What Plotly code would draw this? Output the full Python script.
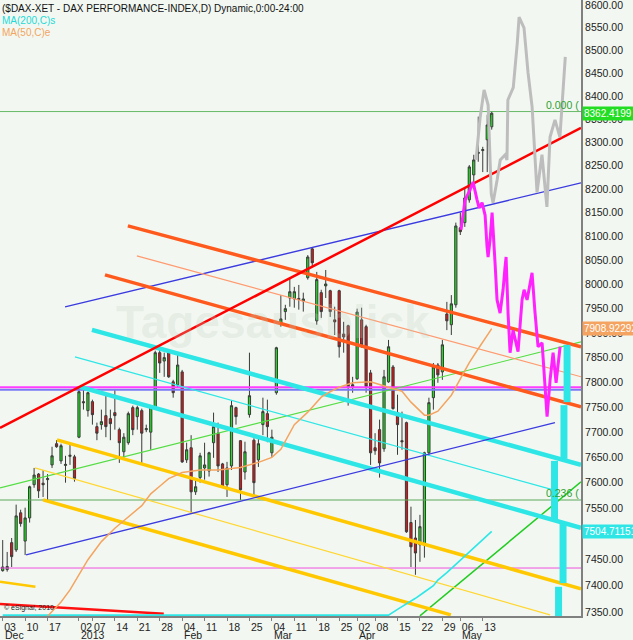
import math
import pandas as pd
import plotly.graph_objects as go

# trading days (Xetra holidays removed)
holidays = ["2012-12-24", "2012-12-25", "2012-12-26", "2012-12-31", "2013-01-01",
            "2013-03-29", "2013-04-01", "2013-05-01"]
days = pd.bdate_range("2012-12-03", "2013-05-15")
days = days[~days.isin(pd.to_datetime(holidays))]

open_ = [7429, 7431, 7483, 7469, 7541, 7486, 7531, 7596, 7617, 7599,
         7606, 7635, 7677, 7643, 7634, 7652, 7651, 7690, 7761, 7743,
         7761, 7711, 7715, 7733, 7727, 7739, 7705, 7661, 7679, 7749,
         7731, 7743, 7705, 7700, 7747, 7860, 7843, 7860, 7801, 7795,
         7821, 7645, 7669, 7582, 7610, 7629, 7623, 7679, 7698, 7637,
         7596, 7633, 7749, 7683, 7621, 7735, 7684, 7645, 7715, 7737,
         7659, 7779, 7919, 7944, 7972, 7970, 7971, 7966, 8014, 8074,
         7925, 7983, 7997, 7987, 7927, 7987, 7898, 7915, 7795, 7807,
         7927, 7913, 7819, 7669, 7705, 7667, 7801, 7831, 7739, 7683,
         7719, 7522, 7492, 7479, 7479, 7659, 7769, 7835, 7821, 7939,
         7917, 7958, 8118, 8129, 8177, 8230, 8276, 8282, 8305, 8333]
high = [7488, 7465, 7492, 7557, 7547, 7551, 7594, 7629, 7619, 7625,
        7617, 7671, 7684, 7677, 7653, 7677, 7655, 7789, 7785, 7781,
        7765, 7719, 7745, 7775, 7745, 7785, 7709, 7698, 7741, 7753,
        7753, 7747, 7715, 7751, 7864, 7866, 7860, 7864, 7805, 7856,
        7825, 7679, 7694, 7606, 7659, 7679, 7661, 7739, 7719, 7639,
        7641, 7763, 7751, 7684, 7681, 7860, 7688, 7690, 7769, 7765,
        7705, 7872, 7978, 7958, 8014, 7995, 7999, 7983, 8061, 8076,
        8026, 7989, 8030, 7989, 7954, 7989, 7923, 7917, 7811, 7950,
        7952, 7917, 7825, 7698, 7725, 7825, 7886, 7835, 7775, 7741,
        7721, 7553, 7527, 7537, 7661, 7769, 7839, 7839, 7886, 7964,
        7978, 8129, 8150, 8202, 8251, 8273, 8355, 8290, 8359, 8367]
low = [7427, 7427, 7436, 7465, 7514, 7459, 7522, 7590, 7570, 7572,
       7566, 7629, 7669, 7637, 7600, 7635, 7602, 7688, 7745, 7731,
       7715, 7684, 7705, 7690, 7684, 7705, 7639, 7645, 7675, 7694,
       7705, 7635, 7700, 7665, 7745, 7819, 7811, 7809, 7769, 7789,
       7639, 7639, 7541, 7576, 7600, 7606, 7612, 7649, 7621, 7590,
       7572, 7625, 7715, 7566, 7606, 7729, 7572, 7631, 7694, 7680,
       7651, 7775, 7913, 7927, 7954, 7952, 7948, 7944, 8010, 8036,
       7917, 7931, 7972, 7933, 7896, 7850, 7860, 7753, 7779, 7805,
       7870, 7779, 7635, 7655, 7610, 7661, 7799, 7745, 7655, 7665,
       7502, 7436, 7421, 7446, 7454, 7653, 7745, 7799, 7805, 7906,
       7896, 7952, 8103, 8120, 8171, 8209, 8258, 8236, 8236, 8327]
close = [7436, 7437, 7456, 7535, 7520, 7531, 7592, 7615, 7584, 7596,
         7608, 7653, 7671, 7673, 7636, 7654, 7608, 7781, 7759, 7779,
         7735, 7698, 7721, 7711, 7717, 7733, 7679, 7690, 7737, 7705,
         7749, 7698, 7707, 7749, 7860, 7839, 7850, 7811, 7779, 7835,
         7641, 7665, 7582, 7592, 7653, 7635, 7659, 7711, 7633, 7592,
         7629, 7753, 7731, 7586, 7661, 7773, 7600, 7677, 7741, 7711,
         7690, 7870, 7929, 7950, 7985, 7985, 7969, 7970, 8057, 8045,
         8010, 7944, 8001, 7944, 7923, 7872, 7892, 7791, 7791, 7943,
         7876, 7791, 7659, 7663, 7639, 7811, 7872, 7747, 7715, 7681,
         7504, 7475, 7463, 7514, 7659, 7759, 7831, 7815, 7876, 7925,
         7960, 8122, 8110, 8181, 8247, 8262, 8278, 8284, 8337, 8362.42]

tick_dates = ["2012-12-03", "2012-12-10", "2012-12-17", "2013-01-02", "2013-01-07",
              "2013-01-14", "2013-01-21", "2013-01-28", "2013-02-04", "2013-02-11",
              "2013-02-18", "2013-02-25", "2013-03-04", "2013-03-11", "2013-03-18",
              "2013-03-25", "2013-04-02", "2013-04-08", "2013-04-15", "2013-04-22",
              "2013-04-29", "2013-05-06", "2013-05-13"]
tick_text = ["03", "10", "17", "02", "07", "14", "21", "28", "04", "11", "18", "25",
             "04", "11", "18", "25", "02", "08", "15", "22", "29", "06", "13"]
month_dates = ["2012-12-03", "2013-01-02", "2013-02-04", "2013-03-04",
               "2013-04-02", "2013-05-06"]
month_text = ["Dec", "2013", "Feb", "Mar", "Apr", "May"]

# moving averages (bar index, value)
ma50_i = [10, 13, 15, 17, 19, 22, 25, 31, 33, 35, 37, 40, 44, 48, 53, 57, 60, 62,
          65, 68, 71, 73, 75, 78, 82, 86, 89, 91, 94, 95, 97, 100, 102, 104, 106, 109]
ma50_v = [7342, 7369, 7392, 7422, 7450, 7485, 7511, 7555, 7578, 7593, 7608, 7620,
          7625, 7625, 7630, 7640, 7650, 7666, 7715, 7740, 7770, 7781, 7790, 7799,
          7801, 7790, 7782, 7760, 7734, 7734, 7742, 7774, 7806, 7840, 7868, 7908.92]
ma200_i = [0, 86, 88, 90, 92, 94, 96, 97, 99, 101, 103, 105, 107, 109]
ma200_v = [7344, 7344, 7355, 7365, 7376, 7388, 7400, 7411, 7425, 7441, 7457,
           7472, 7488, 7504.71]

# drawn trend lines (bar index, price)
red_up_x, red_up_y = [-0.6, 128.9], [7708.5, 8330.7]
red_low_x, red_low_y = [-0.6, 35.9], [7365.3, 7346.4]
gold_short_x, gold_short_y = [-0.6, 7.3], [7407.5, 7397.9]
orange_up_x, orange_up_y = [27.9, 128.9], [8122.2, 7871.7]
orange_low_x, orange_low_y = [22.8, 128.9], [8019.9, 7750.5]
orange_thin_x, orange_thin_y = [29.9, 128.9], [8059.3, 7811.1]
blue_up_x, blue_up_y = [13.9, 128.9], [7953.7, 8213.1]
blue_low_x, blue_low_y = [5.2, 123.1], [7459.3, 7719.0]
cyan_up_x, cyan_up_y = [19.9, 128.9], [7906.5, 7635.2]
cyan_low_x, cyan_low_y = [17.2, 128.9], [7790.8, 7511.9]
cyan_thin_x, cyan_thin_y = [16.1, 122.7], [7851.5, 7585.9]
gold_up_x, gold_up_y = [12.1, 128.9], [7684.7, 7394.0]
gold_low_x, gold_low_y = [9.0, 99.9], [7566.2, 7344.5]
yellow_thin_x, yellow_thin_y = [7.2, 122.0], [7629.2, 7344.5]
green_rise_x, green_rise_y = [93.0, 128.9], [7342.6, 7601.6]
green_thin_x, green_thin_y = [-0.6, 128.9], [7589.9, 7881.9]

# horizontal levels
fib_0 = 8366
fib_236 = 7566
level_magenta = 7790
level_blue = 7785
level_pink = 7434

# projections
proj_mag_x = [102.16, 103.06, 104.17, 104.84, 105.73, 106.18, 106.85, 107.52, 107.96,
              108.19, 108.63, 109.08, 109.74, 110.19, 110.86, 111.53, 111.97, 112.2,
              112.64, 113.09, 113.76, 114.87, 115.76, 116.21, 116.88, 117.55, 117.99,
              118.66, 119.33, 120.23, 120.9, 121.34, 122.01, 122.68, 123.35, 124.24]
proj_mag_y = [8114, 8177, 8198, 8215, 8177, 8160, 8171, 8145, 8078,
              8057, 8093, 8150, 8045, 7968, 7941, 7989, 8036, 8057,
              7941, 7860, 7906, 7862, 7968, 7989, 7968, 7999, 8024,
              7941, 7872, 7880, 7785, 7731, 7805, 7860, 7799, 7872]
proj_gray_x = [105.5, 106.4, 107.3, 108.2, 108.9, 109.3, 110.2, 110.9, 112.0, 112.4,
               112.6, 113.8, 114.7, 115.1, 116.2, 117.1, 118.0, 119.1, 120.2, 121.3,
               122.0, 123.1, 124.2, 124.7, 125.4]
proj_gray_y = [8262, 8352, 8413, 8380, 8190, 8171, 8219, 8262, 8273, 8262,
               8391, 8418, 8516, 8573, 8549, 8450, 8376, 8193, 8273, 8162,
               8311, 8348, 8311, 8391, 8485]
cyan_bar_x = [125.8, 125.8, None, 125.1, 125.1, None, 123.0, 123.0, None,
              124.9, 124.9, None, 123.9, 123.9]
cyan_bar_y = [7876, 7760, None, 7754, 7647, None, 7643, 7527, None,
              7520, 7405, None, 7398, 7342]

idx = list(range(len(days)))
tickvals = [int(days.get_loc(pd.Timestamp(d))) for d in tick_dates]
monthvals = [int(days.get_loc(pd.Timestamp(d))) for d in month_dates]
x_lo, x_hi = -0.6, 128.9
y_lo, y_hi = 7342.3, 8611

fig = go.Figure()


def add_line(x, y, color, width):
    fig.add_trace(go.Scatter(x=x, y=y, mode="lines", hoverinfo="skip",
                             line=dict(color=color, width=width)))


# horizontal levels
add_line([x_lo, x_hi], [fib_0, fib_0], "#66B866", 1)
add_line([x_lo, x_hi], [fib_236, fib_236], "#5FA85F", 1.2)
add_line([x_lo, x_hi], [level_blue, level_blue], "#7A7AF5", 2)
add_line([x_lo, x_hi], [level_magenta, level_magenta], "#FF3CFF", 2)
add_line([x_lo, x_hi], [level_pink, level_pink], "#F050E0", 1)

# trend lines
add_line(green_thin_x, green_thin_y, "#55DD44", 1.2)
add_line(green_rise_x, green_rise_y, "#22CC22", 1.5)
add_line(yellow_thin_x, yellow_thin_y, "#FFD633", 1.2)
add_line(gold_up_x, gold_up_y, "#FFC800", 3.5)
add_line(gold_low_x, gold_low_y, "#FFC800", 3.5)
add_line(gold_short_x, gold_short_y, "#FFC800", 2.5)
add_line(cyan_thin_x, cyan_thin_y, "#2EE6E6", 1.2)
add_line(cyan_up_x, cyan_up_y, "#2EE6E6", 4.5)
add_line(cyan_low_x, cyan_low_y, "#2EE6E6", 4.5)
add_line(blue_up_x, blue_up_y, "#3A3AE0", 1.4)
add_line(blue_low_x, blue_low_y, "#3A3AE0", 1.4)
add_line(orange_thin_x, orange_thin_y, "#FF9A70", 1.2)
add_line(orange_up_x, orange_up_y, "#FF5A1E", 3.5)
add_line(orange_low_x, orange_low_y, "#FF5A1E", 3.5)
add_line(red_low_x, red_low_y, "#FF1010", 2.5)
add_line(red_up_x, red_up_y, "#FF0000", 2.5)

# moving averages
add_line(ma200_i, ma200_v, "#2EE6E6", 1.6)
add_line(ma50_i, ma50_v, "#F4A460", 1.5)

fig.add_trace(go.Candlestick(
    x=idx, open=open_, high=high, low=low, close=close,
    increasing=dict(line=dict(color="#3A3A3A", width=1), fillcolor="#1EE01E"),
    decreasing=dict(line=dict(color="#3A3A3A", width=1), fillcolor="#E01414"),
    whiskerwidth=0, hoverinfo="skip",
))

# projections on top
add_line(proj_gray_x, proj_gray_y, "#BDBDBD", 3)
add_line(proj_mag_x, proj_mag_y, "#FF22FF", 3)
add_line(cyan_bar_x, cyan_bar_y, "#2EE6E6", 7)

font = "Liberation Sans, Arial, sans-serif"
notes = [
    dict(yshift=-1, text="($DAX-XET - DAX PERFORMANCE-INDEX,D) Dynamic,0:00-24:00",
         color="#111111"),
    dict(yshift=-13, text="MA(200,C)s", color="#22D8D8"),
    dict(yshift=-25, text="MA(50,C)e", color="#F4A460"),
]
for n in notes:
    fig.add_annotation(xref="paper", yref="paper", x=0, y=1, yshift=n["yshift"],
                       xanchor="left", yanchor="top", showarrow=False, text=n["text"],
                       font=dict(family=font, size=10, color=n["color"]))

# price labels on the axis
for val, txt, bg in [(8362.42, "8362.4199", "#22DD22"),
                     (7908.92, "7908.92292", "#F4A460"),
                     (7504.71, "7504.71151", "#2EE6E6")]:
    fig.add_annotation(xref="paper", yref="y", x=1, y=math.log10(val), xanchor="left",
                       yanchor="middle", xshift=1, showarrow=False, text=txt,
                       bgcolor=bg, borderpad=1,
                       font=dict(family=font, size=10, color="white"))

for val, txt in [(fib_0, "0.000 ("), (fib_236, "0.236 (")]:
    fig.add_annotation(xref="paper", yref="y", x=1, y=math.log10(val), xanchor="right",
                       yanchor="bottom", showarrow=False, text=txt, yshift=-1,
                       font=dict(family=font, size=10.5, color="#2FA02F"))

# month row under the day labels
for mv, mt in zip(monthvals, month_text):
    fig.add_annotation(xref="x", yref="paper", x=mv, y=0, xanchor="left",
                       yanchor="top", xshift=0, yshift=-11, showarrow=False, text=mt,
                       font=dict(family=font, size=10.5, color="#222222"))

fig.add_annotation(xref="paper", yref="paper", x=0.47, y=0.478, showarrow=False,
                   text="<b>Tagesausblick</b>",
                   font=dict(family=font, size=46, color="rgba(190,205,190,0.25)"))
fig.add_annotation(xref="paper", yref="paper", x=0.004, y=0.0, yshift=2,
                   xanchor="left", yanchor="bottom", showarrow=False,
                   text="© eSignal, 2010", font=dict(family=font, size=7, color="#222222"))

fig.update_layout(
    width=633, height=640,
    margin=dict(l=0, r=52, t=0, b=24),
    paper_bgcolor="#F2F8F1", plot_bgcolor="#F2F8F1",
    showlegend=False,
    font=dict(family=font, size=10.5, color="#222222"),
    xaxis=dict(range=[x_lo, x_hi], rangeslider=dict(visible=False), showgrid=False,
               zeroline=False, tickvals=tickvals, ticktext=tick_text, tickangle=0,
               ticks="outside", ticklen=3, tickcolor="#808080",
               ticklabelposition="outside right", automargin=False,
               showline=True, linecolor="#808080", linewidth=2),
    yaxis=dict(type="log", range=[math.log10(y_lo), math.log10(y_hi)], side="right",
               showgrid=False, zeroline=False, automargin=False,
               ticklabeloverflow="allow",
               tickvals=list(range(7350, 8601, 50)), tickformat=".2f",
               ticks="", showline=True, linecolor="#808080", linewidth=2),
)

fig.write_html("out.html", config={"displayModeBar": False},
               post_script="document.body.style.margin='0';"
                           "document.body.style.background='#F2F8F1';")
